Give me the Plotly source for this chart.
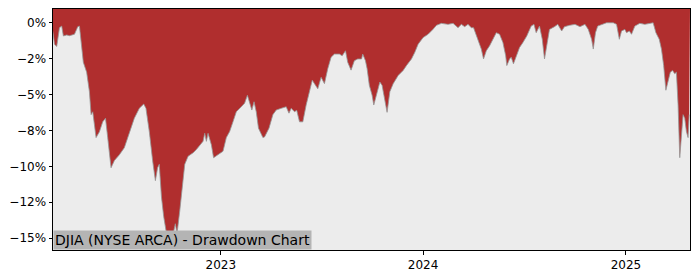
import plotly.graph_objects as go

# ---- data (drawdown in %) ----
dates = [
    "2022-03-04", "2022-03-07", "2022-03-11", "2022-03-16", "2022-03-20", "2022-03-23",
    "2022-03-29", "2022-04-03", "2022-04-12", "2022-04-18", "2022-04-21", "2022-04-24",
    "2022-04-28", "2022-05-04", "2022-05-09", "2022-05-12", "2022-05-15", "2022-05-21",
    "2022-05-27", "2022-06-02", "2022-06-07", "2022-06-11", "2022-06-17", "2022-06-23",
    "2022-07-02", "2022-07-11", "2022-07-20", "2022-07-29", "2022-08-07", "2022-08-15",
    "2022-08-19", "2022-08-25", "2022-08-31", "2022-09-05", "2022-09-09", "2022-09-12",
    "2022-09-16", "2022-09-20", "2022-09-26", "2022-09-30", "2022-10-04", "2022-10-06",
    "2022-10-11", "2022-10-14", "2022-10-19", "2022-10-25", "2022-10-28", "2022-11-03",
    "2022-11-12", "2022-11-18", "2022-11-24", "2022-11-30", "2022-12-03", "2022-12-06",
    "2022-12-09", "2022-12-15", "2022-12-19", "2022-12-27", "2023-01-05", "2023-01-11",
    "2023-01-17", "2023-01-23", "2023-01-29", "2023-02-07", "2023-02-13", "2023-02-18",
    "2023-02-22", "2023-02-26", "2023-03-02", "2023-03-06", "2023-03-10", "2023-03-15",
    "2023-03-18", "2023-03-21", "2023-03-29", "2023-04-05", "2023-04-11", "2023-04-20",
    "2023-04-29", "2023-05-04", "2023-05-08", "2023-05-14", "2023-05-18", "2023-05-23",
    "2023-05-29", "2023-06-04", "2023-06-10", "2023-06-15", "2023-06-19", "2023-06-25",
    "2023-07-01", "2023-07-07", "2023-07-13", "2023-07-19", "2023-07-25", "2023-08-03",
    "2023-08-08", "2023-08-14", "2023-08-18", "2023-08-24", "2023-08-30", "2023-09-05",
    "2023-09-12", "2023-09-14", "2023-09-19", "2023-09-22", "2023-09-26", "2023-10-01",
    "2023-10-04", "2023-10-09", "2023-10-15", "2023-10-19", "2023-10-24", "2023-10-28",
    "2023-11-02", "2023-11-08", "2023-11-17", "2023-11-26", "2023-12-02", "2023-12-11",
    "2023-12-17", "2023-12-23", "2024-01-01", "2024-01-10", "2024-01-19", "2024-01-25",
    "2024-02-03", "2024-02-15", "2024-02-24", "2024-03-04", "2024-03-10", "2024-03-16",
    "2024-03-22", "2024-03-28", "2024-04-01", "2024-04-09", "2024-04-15", "2024-04-19",
    "2024-04-24", "2024-04-30", "2024-05-06", "2024-05-12", "2024-05-18", "2024-05-24",
    "2024-05-29", "2024-05-31", "2024-06-05", "2024-06-08", "2024-06-12", "2024-06-17",
    "2024-06-23", "2024-06-29", "2024-07-06", "2024-07-14", "2024-07-19", "2024-07-23",
    "2024-07-29", "2024-08-03", "2024-08-07", "2024-08-12", "2024-08-16", "2024-08-25",
    "2024-08-31", "2024-09-07", "2024-09-12", "2024-09-21", "2024-10-01", "2024-10-10",
    "2024-10-19", "2024-10-25", "2024-10-31", "2024-11-03", "2024-11-07", "2024-11-11",
    "2024-11-18", "2024-11-27", "2024-12-09", "2024-12-15", "2024-12-20", "2024-12-24",
    "2024-12-30", "2025-01-02", "2025-01-07", "2025-01-11", "2025-01-17", "2025-01-26",
    "2025-02-04", "2025-02-13", "2025-02-19", "2025-02-24", "2025-03-02", "2025-03-06",
    "2025-03-10", "2025-03-14", "2025-03-18", "2025-03-22", "2025-03-26", "2025-03-30",
    "2025-04-02", "2025-04-05", "2025-04-08", "2025-04-11", "2025-04-14", "2025-04-17",
    "2025-04-20", "2025-04-23", "2025-04-25",
]
drawdown = [
    -0.6, -1.5, -1.65, -0.34, -0.23, -0.92,
    -0.85, -0.9, -0.8, -0.27, -0.23, -1.15,
    -2.75, -3.44, -4.8, -6.4, -6.2, -8.0,
    -7.6, -6.9, -6.65, -8.0, -10.1, -9.6,
    -9.2, -8.7, -7.6, -6.65, -5.96, -5.66,
    -5.96, -7.57, -9.6, -11.0, -10.1, -9.86,
    -12.15, -13.5, -14.9, -15.7, -14.7, -14.9,
    -14.0, -14.7, -13.1, -11.0, -9.86, -9.3,
    -9.06, -8.83, -8.5, -8.26, -7.7, -8.26,
    -7.7, -8.5, -9.4, -9.2, -8.95, -8.0,
    -7.57, -6.9, -6.2, -5.85, -5.6, -5.05,
    -5.5, -6.08, -5.5, -6.2, -7.34, -7.8,
    -8.0, -7.95, -7.34, -6.4, -6.08, -5.96,
    -5.85, -6.3, -5.96, -6.2, -6.1, -6.9,
    -6.9, -5.73, -4.8, -4.0, -4.24, -4.6,
    -3.8, -4.24, -3.2, -2.4, -2.18, -2.18,
    -2.3, -1.95, -2.75, -3.3, -2.64, -2.52,
    -2.52, -2.18, -2.64, -3.2, -4.36, -5.05,
    -5.73, -5.05, -4.13, -4.36, -5.5, -6.24,
    -4.8, -4.24, -3.67, -3.32, -2.98, -2.52,
    -2.06, -1.49, -1.03, -0.8, -0.45, -0.18,
    -0.04, -0.11, -0.04, -0.34, -0.11, -0.27,
    -0.11, -0.34, -0.34, -1.15, -1.83, -2.52,
    -1.95, -1.6, -1.15, -0.69, -0.8, -1.38,
    -2.3, -2.98, -2.52, -2.4, -2.86, -2.3,
    -1.72, -1.38, -0.92, -0.23, -0.11, -0.69,
    -0.23, -1.15, -2.52, -1.38, -0.46, -0.27,
    -0.11, -0.57, -0.27, -0.18, -0.11, -0.27,
    -0.11, -0.46, -1.15, -1.83, -0.69, -0.23,
    -0.11, 0.0, 0.0, -0.11, -1.15, -0.57,
    -0.46, -0.69, -0.57, -0.8, -0.23, -0.04,
    -0.11, -0.04, 0.0, -0.69, -1.15, -1.83,
    -2.98, -4.7, -4.13, -3.44, -3.32, -3.55,
    -3.44, -5.73, -9.4, -8.0, -6.4, -6.65,
    -7.57, -8.0, -6.4,
]
y_tick_vals = [0, -2.5, -5, -7.5, -10, -12.5, -15]
y_tick_text = ["0%", "\u22122%", "\u22125%", "\u22128%", "\u221210%", "\u221212%", "\u221215%"]
title_text = "DJIA (NYSE ARCA) - Drawdown Chart"

# ---- layout constants ----
Y_RANGE = [-15.83, 0.96]
X_RANGE = ["2022-03-04 07:00", "2025-04-26 12:00"]
RED = "#b02e2e"
BG = "#ececec"
FONT = "DejaVu Sans"

fig = go.Figure()
# upper boundary (top of axes) for the red area
fig.add_trace(go.Scatter(
    x=[X_RANGE[0], X_RANGE[1]], y=[Y_RANGE[1], Y_RANGE[1]],
    mode="lines", line=dict(width=0, color=RED), hoverinfo="skip", showlegend=False,
))
fig.add_trace(go.Scatter(
    x=dates, y=drawdown, mode="lines",
    line=dict(color="#959595", width=0.8),
    fill="tonexty", fillcolor=RED, showlegend=False,
))

fig.add_annotation(
    text=title_text, xref="paper", yref="paper", x=0, y=0,
    xanchor="left", yanchor="bottom", showarrow=False,
    font=dict(family=FONT, size=14, color="black"),
    bgcolor="#b4b4b4", borderpad=1,
)

axis_common = dict(
    showline=True, linecolor="black", linewidth=1, mirror=True,
    ticks="outside", ticklen=3.5, tickwidth=1, tickcolor="black",
    showgrid=False, zeroline=False,
    tickfont=dict(family=FONT, size=12, color="black"),
)
fig.update_xaxes(
    range=X_RANGE, tickformat="%Y", dtick="M12", tick0="2023-01-01",
    **axis_common,
)
fig.update_yaxes(
    range=Y_RANGE, tickvals=y_tick_vals, ticktext=y_tick_text,
    **axis_common,
)
fig.update_layout(
    width=700, height=280,
    margin=dict(l=53, r=10, t=8, b=28),
    plot_bgcolor=BG, paper_bgcolor="white",
    font=dict(family=FONT),
)
fig.write_html("out.html")
